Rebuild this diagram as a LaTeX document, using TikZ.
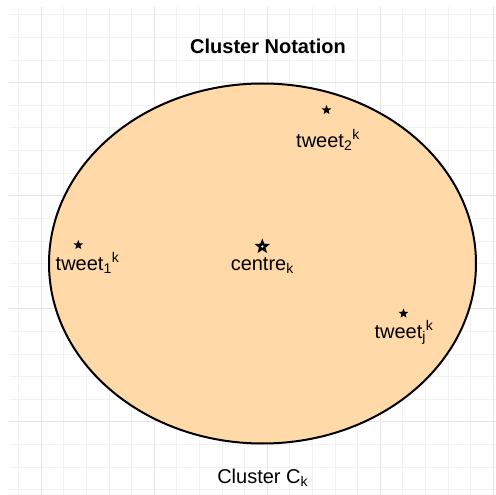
\documentclass[tikz,border=0pt]{standalone}
\usepackage{fontspec}
\setmainfont{Liberation Sans}
\usetikzlibrary{shapes.geometric}
\definecolor{gridminor}{HTML}{F1F1F1}
\definecolor{gridmajor}{HTML}{E4E4E4}
\definecolor{peach}{HTML}{FFD9A8}
\tikzset{
  lbl/.style={anchor=base, inner sep=0pt, font=\fontsize{20}{24}\selectfont},
  ttl/.style={anchor=base, inner sep=0pt, font=\fontsize{20}{24}\selectfont\bfseries},
  smallstar/.style={star, star points=5, star point ratio=2.3, fill=black, draw=none, minimum size=10pt, inner sep=0pt},
  bigstar/.style={star, star points=5, star point ratio=2.3, fill=black, draw=none, minimum size=16pt, inner sep=0pt},
}
\begin{document}
\begin{tikzpicture}[x=1pt,y=-1pt]
\useasboundingbox (0,0) rectangle (496,495);
\fill[white] (0,0) rectangle (496,495);
% grid
\foreach \n in {0,...,21}{
  \pgfmathsetmacro{\gx}{18.7+22.6*\n}
  \pgfmathsetmacro{\gy}{15+22.6*\n}
  \draw[gridminor, line width=1pt] (\gx,7) -- (\gx,495);
  \draw[gridminor, line width=1pt] (9,\gy) -- (496,\gy);
}
\foreach \n in {1,6,11,16,21}{
  \pgfmathsetmacro{\gx}{18.7+22.6*\n}
  \draw[gridmajor, line width=1pt] (\gx,7) -- (\gx,495);
}
\foreach \n in {3,8,13,18}{
  \pgfmathsetmacro{\gy}{15+22.6*\n}
  \draw[gridmajor, line width=1pt] (9,\gy) -- (496,\gy);
}
% title
\node[ttl] (title) at (268,54) {Cluster Notation};
% cluster ellipse
\draw[fill=peach, line width=2pt] (262.5,263.5) ellipse [x radius=213.5, y radius=180];
\coordinate (cluster) at (262.5,263.5);
% stars
\node[smallstar] (s2) at (326.5,110) {};
\node[smallstar] (s1) at (78.3,245) {};
\node[smallstar] (sj) at (403.5,313.5) {};
\node[bigstar] (sc) at (262.3,246.5) {};
\fill[white] (sc.center) circle (1.3pt);
% labels
\node[lbl] (t2) at (328,147) {tweet\textsubscript{2}\textsuperscript{k}};
\node[lbl] (t1) at (87.5,270) {tweet\textsubscript{1}\textsuperscript{k}};
\node[lbl] (tc) at (262.3,270) {centre\textsubscript{k}};
\node[lbl] (tj) at (404,338.3) {tweet\textsubscript{j}\textsuperscript{k}};
\node[lbl] (cap) at (262.7,483.3) {Cluster C\textsubscript{k}};
\end{tikzpicture}
\end{document}
